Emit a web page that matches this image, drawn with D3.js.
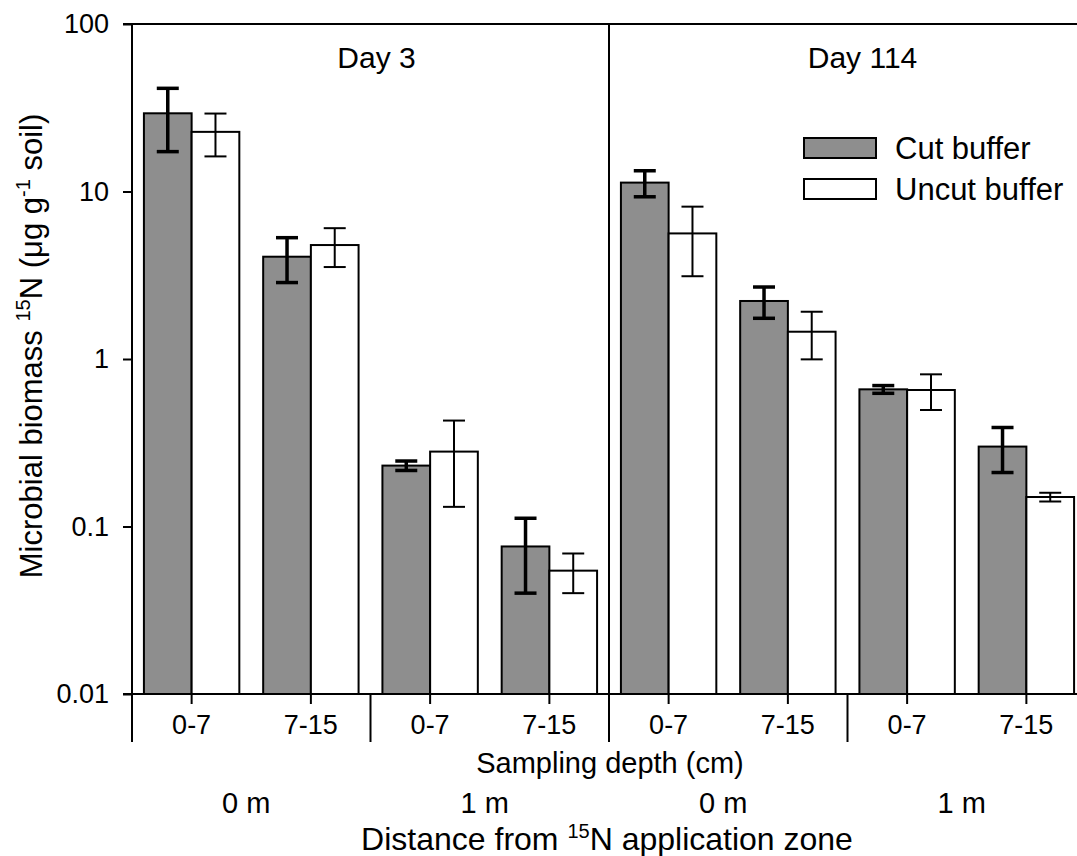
<!DOCTYPE html>
<html>
<head>
<meta charset="utf-8">
<script src="https://cdn.jsdelivr.net/npm/d3@7"></script>
<style>
  body { margin: 0; background: #fff; }
  svg { display: block; font-family: "Liberation Sans", Arial, sans-serif; }
</style>
</head>
<body>
<svg id="chart" width="1077" height="856"></svg>
<script>
// values (log axis, error bars are +/- SE)
const categories = ["0-7", "7-15", "0-7", "7-15", "0-7", "7-15", "0-7", "7-15"];
const cutValues = [29.3, 4.08, 0.231, 0.076, 11.3, 2.22, 0.659, 0.30];
const cutErr = [12.0, 1.22, 0.015, 0.036, 2.0, 0.47, 0.035, 0.09];
const uncutValues = [22.7, 4.79, 0.28, 0.0545, 5.62, 1.455, 0.653, 0.150];
const uncutErr = [6.5, 1.25, 0.149, 0.0145, 2.5, 0.46, 0.157, 0.009];
const distances = ["0 m", "1 m", "0 m", "1 m"];
const days = ["Day 3", "Day 114"];
const yTicks = [0.01, 0.1, 1, 10, 100];
const seriesNames = ["Cut buffer", "Uncut buffer"];

const svg = d3.select("#chart");
const mLeft = 132, mTop = 24, plotW = 954, plotH = 670;
const mBottom = mTop + plotH;
const GREY = "#8e8e8e";

let x = d3.scaleBand()
    .domain(d3.range(categories.length))
    .range([mLeft, mLeft + plotW]);
let bw = x.bandwidth();
let barW = bw * 0.4;

let y = d3.scaleLog()
    .domain([0.01, 100])
    .range([mBottom, mTop]);

// y axis
let yAxis = svg.append("g")
    .attr("transform", `translate(${mLeft},0)`)
    .call(d3.axisLeft(y).tickValues(yTicks).tickSize(9).tickPadding(14)
        .tickFormat(d => d >= 1 ? d3.format("d")(d) : String(d)));
yAxis.select(".domain").remove();
yAxis.selectAll("line").attr("stroke", "#000").attr("stroke-width", 2);
yAxis.selectAll("text").style("font-size", "27px").attr("fill", "#000");

// bars
let data = categories.map((c, i) => ({
    i: i,
    vals: [
        { v: cutValues[i], e: cutErr[i], s: 0 },
        { v: uncutValues[i], e: uncutErr[i], s: 1 }
    ]
}));

let groups = svg.append("g").selectAll("g.cat")
    .data(data)
    .enter().append("g")
    .attr("class", "cat");

groups.selectAll("rect")
    .data(d => d.vals.map(v => Object.assign({ i: d.i }, v)))
    .enter().append("rect")
    .attr("x", d => x(d.i) + bw / 2 - barW + d.s * barW)
    .attr("y", d => y(d.v))
    .attr("width", barW)
    .attr("height", d => mBottom - y(d.v))
    .attr("fill", d => d.s === 0 ? GREY : "#fff")
    .attr("stroke", "#000")
    .attr("stroke-width", 2);

// error bars
let errs = groups.selectAll("g.err")
    .data(d => d.vals.map(v => Object.assign({ i: d.i }, v)))
    .enter().append("g")
    .attr("class", "err")
    .attr("stroke", "#000")
    .attr("stroke-width", d => d.s === 0 ? 3.5 : 2);

let cx = d => x(d.i) + bw / 2 - barW / 2 + d.s * barW;
errs.append("line")
    .attr("x1", cx).attr("x2", cx)
    .attr("y1", d => y(d.v + d.e)).attr("y2", d => y(d.v - d.e));
errs.append("line")
    .attr("x1", d => cx(d) - 11).attr("x2", d => cx(d) + 11)
    .attr("y1", d => y(d.v + d.e)).attr("y2", d => y(d.v + d.e));
errs.append("line")
    .attr("x1", d => cx(d) - 11).attr("x2", d => cx(d) + 11)
    .attr("y1", d => y(d.v - d.e)).attr("y2", d => y(d.v - d.e));

// frame lines
let frame = svg.append("g").attr("stroke", "#000").attr("stroke-width", 2);
frame.append("line").attr("x1", mLeft - 9).attr("x2", 1077).attr("y1", mTop).attr("y2", mTop);
frame.append("line").attr("x1", mLeft - 9).attr("x2", 1077).attr("y1", mBottom).attr("y2", mBottom);
frame.append("line").attr("x1", mLeft).attr("x2", mLeft).attr("y1", mTop).attr("y2", mBottom + 48);
let mid = x(4);
frame.append("line").attr("x1", mid).attr("x2", mid).attr("y1", mTop).attr("y2", mBottom + 48);
[2, 6].forEach(k => {
    frame.append("line").attr("x1", x(k)).attr("x2", x(k)).attr("y1", mBottom).attr("y2", mBottom + 48);
});

// category ticks + labels
let xt = svg.append("g");
xt.selectAll("line")
    .data(categories)
    .enter().append("line")
    .attr("x1", (d, i) => x(i) + bw / 2).attr("x2", (d, i) => x(i) + bw / 2)
    .attr("y1", mBottom).attr("y2", mBottom + 10)
    .attr("stroke", "#000").attr("stroke-width", 2);
xt.selectAll("text")
    .data(categories)
    .enter().append("text")
    .attr("x", (d, i) => x(i) + bw / 2)
    .attr("y", 734)
    .attr("text-anchor", "middle")
    .style("font-size", "27px")
    .text(d => d);

svg.append("text")
    .attr("x", mid + 1).attr("y", 773)
    .attr("text-anchor", "middle")
    .style("font-size", "29px")
    .text("Sampling depth (cm)");

svg.selectAll("text.dist")
    .data(distances)
    .enter().append("text")
    .attr("class", "dist")
    .attr("x", (d, i) => x(i * 2 + 1) - 5)
    .attr("y", 813)
    .attr("text-anchor", "middle")
    .style("font-size", "29px")
    .text(d => d);

let xl = svg.append("text")
    .attr("x", mid - 2).attr("y", 850)
    .attr("text-anchor", "middle")
    .style("font-size", "32px");
xl.append("tspan").text("Distance from ");
xl.append("tspan").attr("dy", -12).style("font-size", "20px").text("15");
xl.append("tspan").attr("dy", 12).text("N application zone");

// day labels
svg.selectAll("text.day")
    .data(days)
    .enter().append("text")
    .attr("class", "day")
    .attr("x", (d, i) => x(i * 4 + 2) + (i === 0 ? 6 : 15))
    .attr("y", 68)
    .attr("text-anchor", "middle")
    .style("font-size", "30px")
    .text(d => d);

// y label
let yl = svg.append("text")
    .attr("transform", `translate(42,${(mTop + mBottom) / 2 - 13}) rotate(-90)`)
    .attr("text-anchor", "middle")
    .style("font-size", "31px");
yl.append("tspan").text("Microbial biomass ");
yl.append("tspan").attr("dy", -12).style("font-size", "20px").text("15");
yl.append("tspan").attr("dy", 12).text("N (\u03bcg g");
yl.append("tspan").attr("dy", -12).style("font-size", "20px").text("-1");
yl.append("tspan").attr("dy", 12).text(" soil)");

// legend
let legend = svg.append("g").attr("transform", "translate(804,138)");
let li = legend.selectAll("g")
    .data(seriesNames)
    .enter().append("g")
    .attr("transform", (d, i) => `translate(0,${i * 41})`);
li.append("rect")
    .attr("width", 72).attr("height", 20)
    .attr("fill", (d, i) => i === 0 ? GREY : "#fff")
    .attr("stroke", "#000").attr("stroke-width", 2);
li.append("text")
    .attr("x", 91).attr("y", 21)
    .style("font-size", "31px")
    .text(d => d);
</script>
</body>
</html>
